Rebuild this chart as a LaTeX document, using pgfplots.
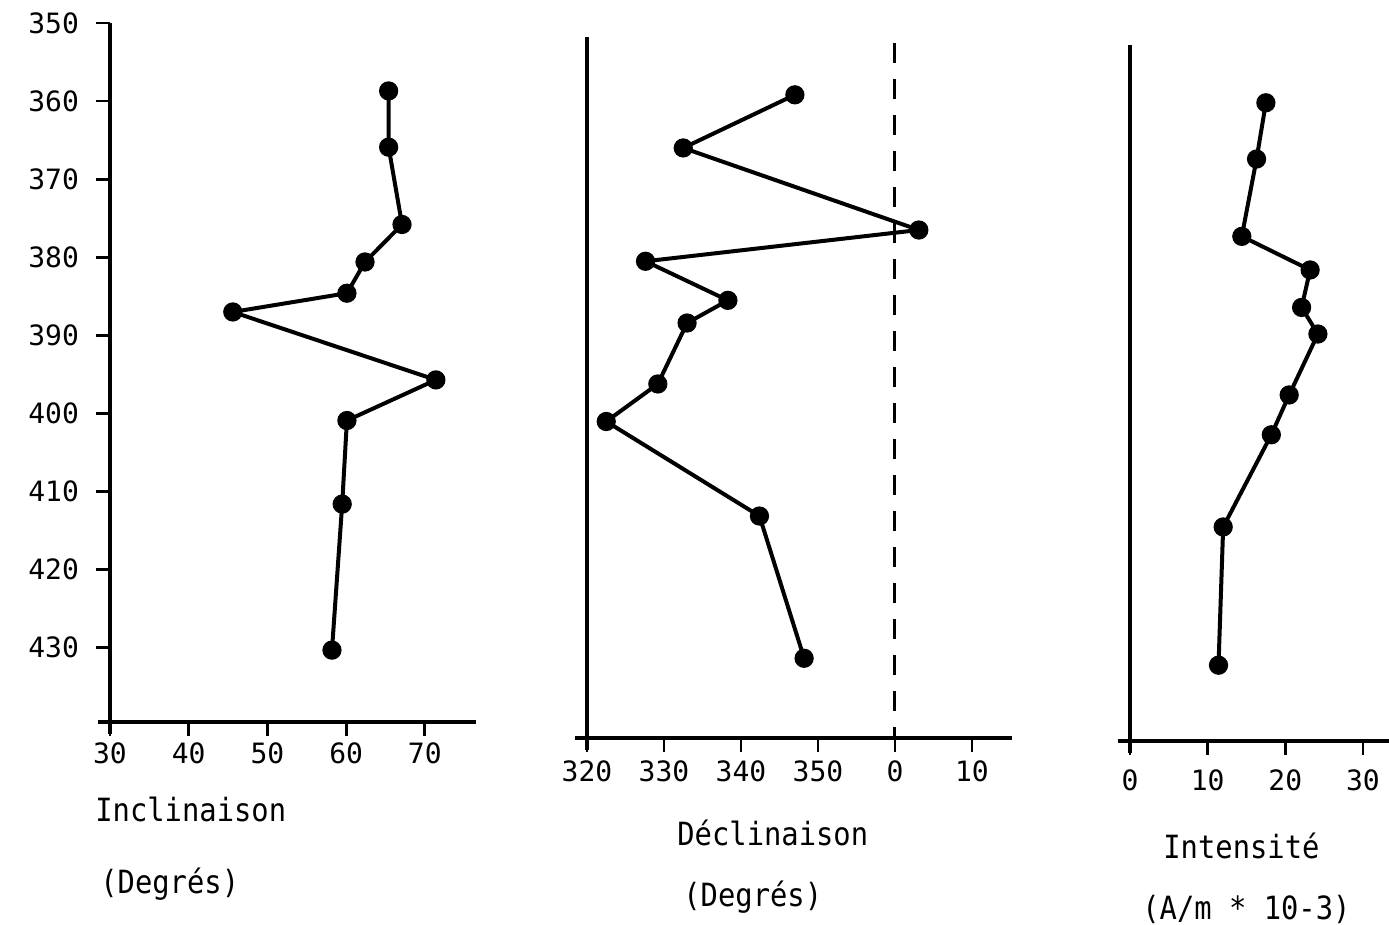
\documentclass[border=0pt]{standalone}
\usepackage{fontspec}
\usepackage{pgfplots}
\pgfplotsset{compat=1.18}
\newfontfamily\plotfont{DejaVu Sans Mono}
\newfontfamily\labelfont{DejaVu Sans Mono}[FakeStretch=0.9]

\pgfplotsset{
  panel/.style={
    scale only axis, anchor=south west, clip=false,
    axis x line*=bottom, axis y line*=left,
    axis line style={line width=1.7pt, -, shorten <=-6pt},
    tick style={line width=1.4pt, black},
    tick align=outside, major tick length=7pt,
    ticklabel style={font={\plotfont\fontsize{14}{16}\selectfont}},
    yticklabel style={xshift=-5pt},
    /pgf/number format/assume math mode=true,
  },
  serie/.style={line width=2pt, black, mark=*, mark size=3.8pt},
}

\begin{document}
\begin{tikzpicture}
\path[use as bounding box] (0,0) rectangle (694.5pt,462.5pt);

% Inclinaison
\begin{axis}[panel, at={(55pt,101.5pt)}, width=183pt, height=349.5pt,
  xmin=30, xmax=76.5, ymin=-439.5, ymax=-350,
  xtick={30,40,50,60,70}, xticklabels={30,40,50,60,70},
  ytick={-350,-360,...,-430},
  yticklabels={350,360,370,380,390,400,410,420,430}]
  \addplot[serie] coordinates {(65.4,-358.7) (65.4,-365.9) (67.1,-375.8)
    (62.4,-380.6) (60.1,-384.6) (45.6,-387.0) (71.4,-395.7) (60.1,-400.9)
    (59.5,-411.6) (58.2,-430.3)};
\end{axis}

% Declinaison
\begin{axis}[panel, at={(293.5pt,93.5pt)}, width=212.5pt, height=350.5pt,
  xmin=320, xmax=375.2, ymin=-441.5, ymax=-351.8,
  xtick={320,330,340,350,360,370}, xticklabels={320,330,340,350,0,10},
  xticklabel style={yshift=-1pt},
  ytick=\empty]
  \addplot[line width=1.5pt, black, dash pattern=on 10pt off 8pt]
    coordinates {(360,-352.6) (360,-441.5)};
  \addplot[serie] coordinates {(347.0,-359.2) (332.5,-366.0) (363.1,-376.5)
    (327.6,-380.5) (338.3,-385.5) (333.0,-388.4) (329.2,-396.2) (322.5,-401.0)
    (342.4,-413.1) (348.2,-431.3)};
\end{axis}

% Intensite
\begin{axis}[panel, at={(565pt,92pt)}, width=132pt, height=348pt,
  xmin=0, xmax=34, ymin=-441.9, ymax=-352.8,
  xtick={0,10,20,30}, xticklabels={0,10,20,30},
  xticklabel style={yshift=-4pt},
  ytick=\empty]
  \addplot[serie] coordinates {(17.5,-360.2) (16.3,-367.4) (14.4,-377.3)
    (23.2,-381.6) (22.1,-386.4) (24.2,-389.8) (20.5,-397.6) (18.2,-402.7)
    (12.0,-414.5) (11.4,-432.2)};
\end{axis}

\begin{scope}[every node/.style={anchor=west, inner sep=0pt,
    font={\labelfont\fontsize{16}{19}\selectfont}}]
  \node at (47.5pt,58pt) {Inclinaison};
  \node at (50pt,20.5pt) {(Degrés)};
  \node at (338.5pt,46pt) {Déclinaison};
  \node at (341.5pt,14pt) {(Degrés)};
  \node at (581.5pt,39.5pt) {Intensité};
  \node at (571pt,8pt) {(A/m * 10-3)};
\end{scope}
\end{tikzpicture}
\end{document}
